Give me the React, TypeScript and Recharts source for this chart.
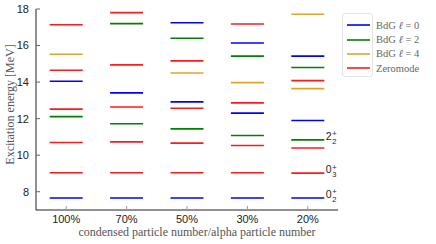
import { ScatterChart, Scatter, XAxis, YAxis, Legend } from "recharts";

// excitation levels per column (MeV), column order follows categories
const categories = ["100%", "70%", "50%", "30%", "20%"];

const bdgL0 = [[7.66, 14.05], [7.66, 13.41], [7.66, 12.92, 17.25], [7.66, 12.3, 16.14], [7.66, 11.9, 15.42]];
const bdgL2 = [[12.11], [11.72, 17.2], [11.44, 16.4], [11.08, 15.42], [10.84, 14.8]];
const bdgL4 = [[15.52], [], [14.5], [13.97], [13.64, 17.71]];
const zeromode = [
  [9.04, 10.69, 12.52, 14.65, 17.14],
  [9.04, 10.73, 12.64, 14.94, 17.8],
  [9.04, 10.66, 12.57, 15.16],
  [9.04, 10.53, 12.86, 17.18],
  [9.02, 10.39, 14.08],
];

const yTicks = [8, 10, 12, 14, 16, 18];

const series = [
  { name: "BdG", ell: "0", color: "#0000ff", levels: bdgL0 },
  { name: "BdG", ell: "2", color: "#008000", levels: bdgL2 },
  { name: "BdG", ell: "4", color: "#e0a428", levels: bdgL4 },
  { name: "Zeromode", ell: null, color: "#ff1a1a", levels: zeromode },
];

// state labels on the last column
const stateLabels = [
  { x: 4, e: bdgL2[4][0], n: "2", sub: "2" },
  { x: 4, e: zeromode[4][0], n: "0", sub: "3" },
  { x: 4, e: bdgL0[4][0], n: "0", sub: "2" },
];

const toPoints = (levels: number[][]) =>
  levels.flatMap((col, i) => col.map((e) => ({ x: i, e })));

const sans = "'Liberation Sans', Arial, sans-serif";
const serif = "'Liberation Serif', 'Times New Roman', serif";

function levelShape(color: string) {
  return (p: any) => (
    <line x1={p.cx - 16.5} x2={p.cx + 16.5} y1={p.cy} y2={p.cy} stroke={color} strokeWidth={1.6} />
  );
}

function StateLabel(p: any) {
  const d = p.payload;
  const x = p.cx + 18;
  return (
    <g fontFamily={sans} fill="#222">
      <text x={x} y={p.cy} fontSize={10.5}>{d.n}</text>
      <text x={x + 6.5} y={p.cy - 3.5} fontSize={7.5}>+</text>
      <text x={x + 6.5} y={p.cy + 4} fontSize={7.5}>{d.sub}</text>
    </g>
  );
}

// the frame in the original is narrower than its text, which runs past it
function LegendBox() {
  return (
    <div
      style={{
        position: "relative",
        border: "1px solid #e4e4e4",
        borderRadius: 3,
        background: "#fff",
        padding: "4px 0 4px 4px",
        width: 31,
        height: 64,
        boxSizing: "border-box",
        overflow: "visible",
        fontFamily: serif,
        fontSize: 10.5,
        color: "#666",
      }}
    >
      {series.map((s) => (
        <div key={s.color} style={{ display: "flex", alignItems: "center", height: 14.4 }}>
          <svg width={23} height={4} style={{ flex: "none" }}>
            <line x1={0} x2={23} y1={2} y2={2} stroke={s.color} strokeWidth={1.6} />
          </svg>
          <span style={{ marginLeft: 6, whiteSpace: "nowrap" }}>
            {s.name}
            {s.ell !== null && (
              <>
                {" "}
                <i>ℓ</i> = {s.ell}
              </>
            )}
          </span>
        </div>
      ))}
    </div>
  );
}

export default function App() {
  return (
    <div style={{ position: "absolute", left: 0, top: 0 }}>
      <ScatterChart width={436} height={244} margin={{ top: 9, right: 98, bottom: 4, left: 0 }}>
        <XAxis
          type="number"
          dataKey="x"
          domain={[-0.5, 4.5]}
          ticks={[0, 1, 2, 3, 4]}
          tickFormatter={(i) => categories[i]}
          height={30}
          tickSize={-4}
          tickMargin={9}
          axisLine={{ stroke: "#222" }}
          tickLine={{ stroke: "#999" }}
          tick={{ fontSize: 11, fill: "#222", fontFamily: sans }}
          label={{
            content: (props: any) => {
              const vb = props.viewBox;
              return (
                <text
                  x={vb.x + vb.width / 2 + 10}
                  y={236}
                  textAnchor="middle"
                  fontFamily={serif}
                  fontSize={12}
                  fill="#555"
                >
                  condensed particle number/alpha particle number
                </text>
              );
            },
          }}
        />
        <YAxis
          type="number"
          dataKey="e"
          domain={[7, 18]}
          ticks={yTicks}
          width={36}
          tickSize={-4}
          tickMargin={11}
          axisLine={{ stroke: "#222" }}
          tickLine={{ stroke: "#666" }}
          tick={{ fontSize: 11, fill: "#222", fontFamily: sans }}
          label={{
            content: (props: any) => {
              const vb = props.viewBox;
              const cy = vb.y + vb.height / 2 - 5;
              return (
                <text
                  x={10}
                  y={cy}
                  transform={`rotate(-90, 10, ${cy})`}
                  textAnchor="middle"
                  dominantBaseline="central"
                  fontFamily={serif}
                  fontSize={12}
                  fill="#555"
                >
                  Excitation energy [MeV]
                </text>
              );
            },
          }}
        />
        {series.map((s) => (
          <Scatter
            key={s.color}
            data={toPoints(s.levels)}
            shape={levelShape(s.color)}
            isAnimationActive={false}
          />
        ))}
        <Scatter data={stateLabels} shape={StateLabel} isAnimationActive={false} />
        <Legend
          layout="vertical"
          align="center"
          verticalAlign="middle"
          content={() => <LegendBox />}
          wrapperStyle={{ top: 13, left: 342, width: 31 }}
        />
      </ScatterChart>
    </div>
  );
}
